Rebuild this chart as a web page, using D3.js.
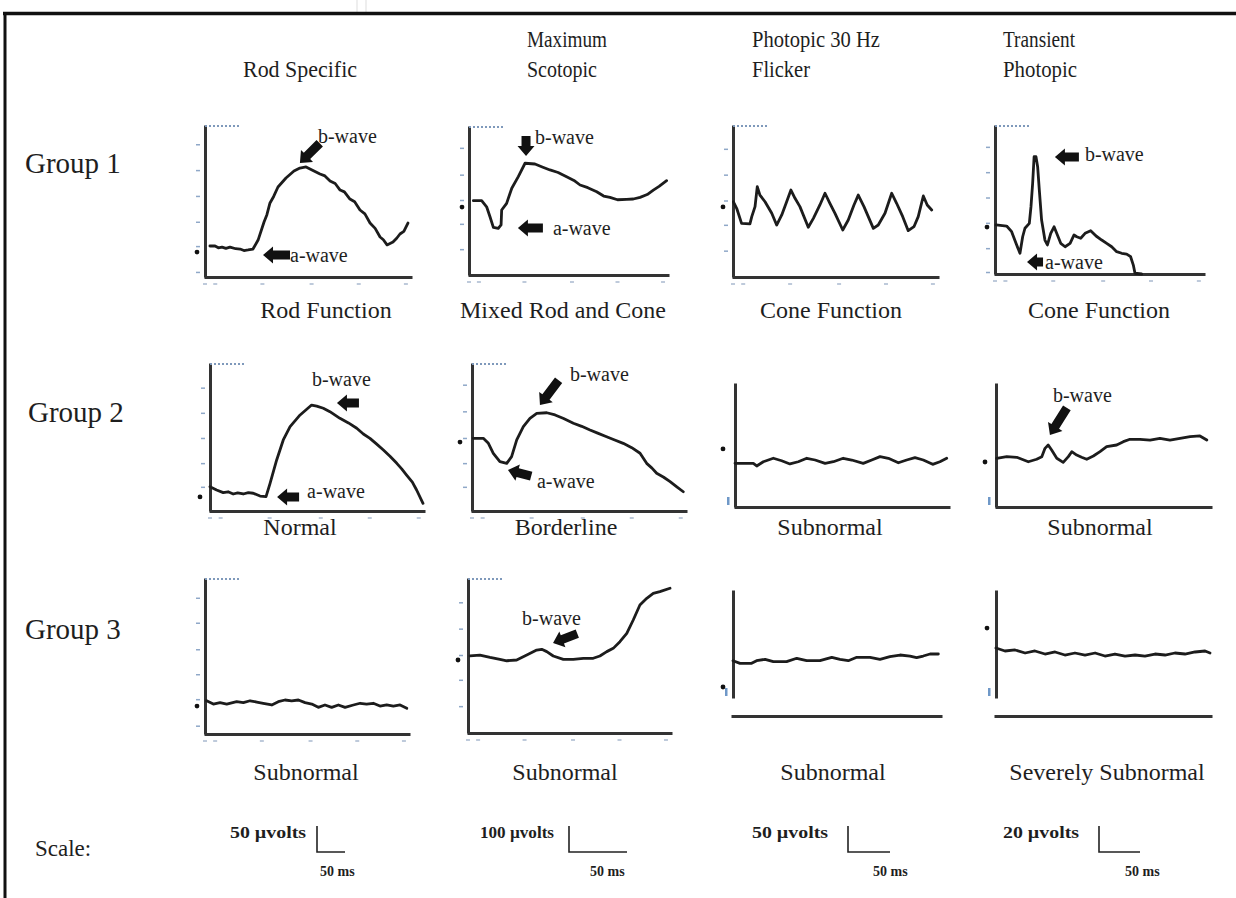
<!DOCTYPE html>
<html>
<head>
<meta charset="utf-8">
<script src="https://cdn.jsdelivr.net/npm/d3@7"></script>
<style>
  body { margin: 0; background: #fff; }
  svg text { font-family: "Liberation Serif", "Times New Roman", serif; fill: #1e1e1e; }
</style>
</head>
<body>
<div id="chart"></div>
<script>
// ---- texts ----
const columnTitles = [["Rod Specific"], ["Maximum", "Scotopic"], ["Photopic 30 Hz", "Flicker"], ["Transient", "Photopic"]];
const groupLabels = ["Group 1", "Group 2", "Group 3"];
const captionsRow1 = ["Rod Function", "Mixed Rod and Cone", "Cone Function", "Cone Function"];
const captionsRow2 = ["Normal", "Borderline", "Subnormal", "Subnormal"];
const captionsRow3 = ["Subnormal", "Subnormal", "Subnormal", "Severely Subnormal"];
const scaleVolts = ["50 \u00b5volts", "100 \u00b5volts", "50 \u00b5volts", "20 \u00b5volts"];
const scaleTime = ["50 ms", "50 ms", "50 ms", "50 ms"];

// ---- waveforms: [time (% of sweep), amplitude (% of panel height)] ----
const g1RodSpecific = [[2.4,20.4],[4.9,20.4],[6.5,19.2],[8.3,19.7],[10.2,18.8],[12.2,19.7],[15,18.6],[17.1,18.4],[19,17.4],[21,17.8],[23.4,18.4],[25.9,24.3],[28.8,36.2],[30.2,41],[31.7,48.7],[33.5,53],[35.6,59.2],[39.5,65.1],[43.4,69.7],[46.3,71.7],[49.3,72.4],[52.2,70.4],[56.1,67.8],[58.5,66.5],[61,63.2],[63.5,61.5],[65.9,57.2],[68,56],[70.7,51.3],[73,49.5],[75.6,44.1],[78,41.5],[80.5,35.5],[83,32],[85.4,26.3],[87,24.5],[88.8,21.1],[91.7,23],[93.5,25.5],[95.1,28.3],[97,30],[99,35.5]];
const g1MaxScotopic = [[2.2,49.9],[6.4,49.9],[8.9,45.8],[10.6,39.1],[12.3,32],[14.8,31.3],[16.2,33.6],[16.5,43.6],[19,48.1],[21.6,58.2],[24.9,66],[28.3,75],[33.3,74.5],[37,72.5],[40.9,70.5],[45,68.8],[49.3,66],[53,63.5],[56.1,60.4],[60,58.6],[64.5,55.9],[68,53],[71.2,52.1],[75,50.5],[79.6,50.8],[83,51],[86.4,52.1],[90,54],[93.1,57],[96,59.5],[99.8,63.3]];
const g1Flicker = [[0.2,49.5],[1.8,45.2],[4.2,35.3],[8.3,34.9],[9.2,39.7],[10.8,46.3],[11.9,59.4],[13.2,53.9],[15.7,49.5],[19,41.9],[21.4,34.2],[23.9,40.8],[26.3,49.5],[28.4,57.2],[30.4,51.8],[32.8,46.3],[36.9,32.7],[39.4,38.6],[42.6,47.4],[45.1,55.1],[47.5,48.5],[50,41.9],[53.8,30.9],[56.5,37.5],[59.3,47.4],[61.4,53.9],[64.2,46.3],[68.8,32],[71.2,34.2],[74.5,41.9],[77.8,55.1],[80.2,48.5],[83.2,39.7],[85.9,30.5],[88.7,33.1],[90.8,39.7],[93.3,53.3],[95.2,47.4],[97.4,44.1]];
const g1Transient = [[0.5,32.9],[5.6,32.2],[8,28.4],[10.1,20.6],[12,13.9],[13.3,25],[14.4,30.7],[16.5,34],[17.3,45.2],[18.1,60.9],[18.8,78.7],[19.7,78.7],[20.5,72],[21.3,56.4],[22.4,36.2],[24,22.8],[25.2,19.5],[26.8,27.3],[28.4,31.7],[30,26.2],[31.6,20.6],[33.7,18.3],[36.1,20.6],[38,26.2],[39.3,25],[41.2,24],[43.3,27.3],[46,29.1],[48.6,25.5],[51.3,22.8],[53.7,20.6],[56.1,18.3],[58.5,15],[60.9,13.9],[63.3,13.4],[65.2,11.6],[66.5,6],[67.3,0.5],[70.5,0]];
const g2RodFunction = [[0,16.4],[3.1,14.2],[6.2,12.4],[8.5,13],[10.9,11.5],[13,12.3],[15.6,11.5],[18,12.4],[20.3,12],[23.5,10.1],[26.3,9.7],[28.2,18.7],[31.3,34.5],[34.4,48],[37.6,57],[42.3,64.9],[47.7,71.6],[50.1,70.9],[53.2,69.4],[56.3,67.1],[61,62.6],[65,59.5],[68.9,55.9],[72,52],[75.1,49.1],[78,45.5],[81.4,41.2],[84.5,37],[87.7,32.2],[90,28.5],[92.3,24.3],[95,19.5],[97,14.2],[100,5.2]];
const g2MixedRodCone = [[0.6,49.1],[5.3,49.1],[7.7,45.7],[10,39],[13.1,33.3],[16.3,32.2],[18.6,36.7],[21,48],[24.1,57],[27.2,62.6],[30.4,66],[35.1,66.4],[39,64.9],[43,62.5],[47.6,59.3],[51.5,57.2],[55.4,54.7],[59,52.6],[63.2,50.2],[67,48],[71,45.7],[75,42.8],[78.9,39],[82,32.2],[84.5,29],[86.7,25.5],[90,22.8],[93,19.8],[96,16.5],[99.2,13]];
const g2Flicker = [[0,35.2],[8.6,35.2],[10.2,33.1],[13.3,36.5],[18,39.3],[21.9,37.3],[25.8,34.7],[29.7,36.5],[33.7,39.3],[37.6,37.9],[42.3,35.2],[46.2,36.5],[50.8,39.3],[54.8,37.9],[60.2,35.2],[64.2,37.9],[68.1,40.6],[72,39.3],[76.7,35.7],[80.6,37.9],[84.5,39.8],[88.4,37.9],[92.8,34.4],[96.2,36.5],[99.4,39.3]];
const g2Transient = [[0.3,39.3],[5,40.6],[9.7,40.1],[15.1,36.5],[19,38.5],[21.4,40.6],[22.9,47.3],[24.4,50],[26,46],[28.4,39.3],[31.4,36],[33.8,40.6],[35.4,44.6],[37.7,41.9],[40,40.1],[42.4,38.5],[45.5,41.1],[48.6,44.6],[51.7,48.6],[56.4,50],[59.5,52.7],[62.6,54.6],[67.3,54.6],[72,54],[76.6,55.4],[81.3,54],[86,55.4],[90.7,56.7],[95.3,57.3],[98.5,54]];
const g3RodSpecific = [[0.8,21.3],[4.1,19.2],[7.4,20.1],[10.7,19.2],[15.6,20.7],[18.9,20.1],[22.2,21.3],[25.5,20.5],[28.7,19.7],[32.9,18.6],[36.1,20.7],[39.4,21.8],[42.7,21.3],[46,21.8],[49.3,20.1],[52.6,19.2],[55.8,17.1],[59.1,18.6],[62.4,17.1],[65.7,18.6],[69,17.1],[73.1,18.6],[76.4,19.7],[79.6,19.2],[82.9,19.7],[86.2,17.9],[89.5,18.6],[92.8,17.9],[96.1,18.6],[99.4,16.5]];
const g3MaxScotopic = [[1,49.7],[5.9,50.3],[10.9,48.8],[15.8,47.5],[19.2,46.6],[24.1,47.1],[29.1,50.3],[34,53.5],[36.5,54],[39,52.5],[42.2,49.7],[47.2,47.5],[52.1,47.5],[57.1,48.2],[62,48.2],[65.3,49.7],[68.7,52.5],[71.9,54.6],[75.2,58.9],[78.6,64.3],[81.8,72.9],[85.1,82.6],[88.5,86.9],[91.7,90.1],[95,91.2],[100,93.4]];
const g3Flicker = [[0,43.9],[3.4,41.8],[9,41.8],[11.4,43.9],[15.5,45],[19.5,43.1],[25.9,43.1],[30.8,45.8],[35.6,43.9],[42,43.9],[47.7,46.6],[51.7,45],[55.7,43.9],[59.8,46.6],[66.2,46.6],[71,45],[75.8,47.1],[80.7,48.4],[85.5,47.6],[88.7,46.3],[91.9,47.6],[95.2,49.2],[99.2,49.2]];
const g3Transient = [[0,54],[4.2,51.6],[8.9,52.4],[13.6,50],[18.2,51.6],[22.9,49.2],[27.6,50.8],[32.2,48.4],[36.9,50],[41.6,48.4],[46.3,50],[50.9,47.6],[55.6,49.2],[60.3,47.6],[65,48.4],[69.6,47.6],[74.3,49.2],[79,48.4],[83.6,50],[88.3,49.2],[93,50.8],[97.7,51.6],[100,50]];

// ---- panel layout ----
const panels = [
  {x0:205, w:205, top:125, bot:277, kind:'ticked', wave:g1RodSpecific, yTicks:[3,20,36,53,70,87], base:16.4, dotDx:-8},
  {x0:469, w:198, top:126, bot:275, kind:'ticked', wave:g1MaxScotopic, yTicks:[17,34,50,67,85], base:45.6, dotDx:-7},
  {x0:733, w:204, top:125, bot:277, kind:'ticked', wave:g1Flicker, yTicks:[17,34,50,67,84], base:46.1, dotDx:-10},
  {x0:995, w:208, top:125, bot:274, kind:'ticked', wave:g1Transient, yTicks:[1,17,34,51,68,85], base:31.5, dotDx:-8},
  {x0:210, w:213, top:363, bot:511, kind:'ticked', wave:g2RodFunction, yTicks:[16,32,49,66,83], base:9.5, dotDx:-10},
  {x0:472, w:213, top:363, bot:511, kind:'ticked', wave:g2MixedRodCone, yTicks:[16,32,49,67,85], base:46.6, dotDx:-12},
  {x0:735, w:213, top:383, bot:507, kind:'plain', wave:g2Flicker, base:46.8, dotDx:-12},
  {x0:996, w:214, top:383, bot:507, kind:'plain', wave:g2Transient, base:36.3, dotDx:-11},
  {x0:205, w:203, top:578, bot:734, kind:'ticked', wave:g3RodSpecific, yTicks:[5,22,38,54,71,87], base:17.9, dotDx:-8},
  {x0:468, w:202, top:578, bot:733, kind:'ticked', wave:g3MaxScotopic, yTicks:[17,34,50,67,84], base:47.1, dotDx:-10},
  {x0:733, w:207, top:590, bot:716, kind:'split', axisEnd:698, wave:g3Flicker, base:23, dotDx:-10},
  {x0:996, w:214, top:590, bot:716, kind:'split', axisEnd:698, wave:g3Transient, base:69.8, dotDx:-9}
];
const xTicks = [0, 5, 28, 52, 75, 98];

// annotation arrows: panel index, tip (t, v), direction angle, length, label offset
const annotations = [
  {p:0, label:'b-wave', t:46.3, v:75.0, angle:135, len:28, dx:18, dy:-20},
  {p:0, label:'a-wave', t:28.3, v:14.5, angle:180, len:27, dx:27, dy:7},
  {p:1, label:'b-wave', t:28.8, v:79.9, angle:90, len:20, dx:9, dy:-12},
  {p:1, label:'a-wave', t:24.7, v:31.5, angle:180, len:25, dx:35, dy:7},
  {p:3, label:'b-wave', t:28.8, v:78.5, angle:180, len:24, dx:30, dy:4},
  {p:3, label:'a-wave', t:15.4, v:8.1, angle:180, len:16, dx:18, dy:7},
  {p:4, label:'b-wave', t:59.6, v:73.0, angle:180, len:22, dx:-25, dy:-17},
  {p:4, label:'a-wave', t:31.5, v:9.5, angle:180, len:22, dx:30, dy:1},
  {p:5, label:'b-wave', t:31.9, v:71.6, angle:127, len:31, dx:30, dy:-24},
  {p:5, label:'a-wave', t:16.9, v:27.7, angle:195, len:24, dx:29, dy:18},
  {p:7, label:'b-wave', t:25.2, v:58.1, angle:122, len:32, dx:3, dy:-33},
  {p:9, label:'b-wave', t:42.1, v:58.1, angle:159, len:26, dx:-31, dy:-18}
];

const W = 1236, H = 898;
const svg = d3.select('#chart').append('svg').attr('width', W).attr('height', H);

// frame
svg.append('line').attr('x1', 357).attr('x2', 357).attr('y1', 0).attr('y2', 12).attr('stroke', '#ddd');
svg.append('line').attr('x1', 366).attr('x2', 366).attr('y1', 0).attr('y2', 12).attr('stroke', '#ddd');
svg.append('line').attr('x1', 3).attr('x2', W).attr('y1', 13.5).attr('y2', 13.5).attr('stroke', '#111').attr('stroke-width', 3.5);
svg.append('line').attr('x1', 5).attr('x2', 5).attr('y1', 12).attr('y2', H).attr('stroke', '#111').attr('stroke-width', 3);

// column titles (narrow serif, as in the original)
const titleX = [243, 527, 752, 1003];
const titleLen = [[114], [80, 70], [128, 58], [72, 74]];
columnTitles.forEach((lines, i) => {
  const ys = lines.length === 1 ? [77] : [47, 77];
  lines.forEach((s, j) => {
    svg.append('text').attr('x', titleX[i]).attr('y', ys[j]).attr('font-size', 23)
      .attr('textLength', titleLen[i][j]).attr('lengthAdjust', 'spacingAndGlyphs').text(s);
  });
});

// group labels + scale label
const groupY = [173, 422, 639];
groupLabels.forEach((s, i) => {
  svg.append('text').attr('x', i === 1 ? 28 : 25).attr('y', groupY[i]).attr('font-size', 29).text(s);
});
svg.append('text').attr('x', 35).attr('y', 856).attr('font-size', 23).text('Scale:');

// captions
const capRows = [
  {texts: captionsRow1, y: 318, cx: [326, 563, 831, 1099]},
  {texts: captionsRow2, y: 535, cx: [300, 566, 830, 1100]},
  {texts: captionsRow3, y: 780, cx: [306, 565, 833, 1107]}
];
capRows.forEach(r => r.texts.forEach((s, i) => {
  svg.append('text').attr('x', r.cx[i]).attr('y', r.y).attr('font-size', 24)
    .attr('text-anchor', 'middle').text(s);
}));

// panels
const line = d3.line();
panels.forEach(p => {
  const x = d3.scaleLinear([0, 100], [p.x0, p.x0 + p.w]);
  const y = d3.scaleLinear([0, 100], [p.bot, p.top]);
  p.x = x; p.y = y;
  const g = svg.append('g');

  // axes
  const yAxisRange = p.kind === 'split' ? [p.axisEnd, p.top] : [p.bot, p.top];
  const yAx = d3.scaleLinear([0, 1], yAxisRange);
  g.append('g').attr('transform', `translate(${p.x0},0)`)
    .call(d3.axisLeft(yAx).tickValues([]).tickSizeOuter(0))
    .call(a => a.select('.domain').attr('stroke', '#333').attr('stroke-width', 3));
  const xStart = p.kind === 'split' ? p.x0 - 2 : p.x0 - 1;
  const xAx = d3.scaleLinear([0, 1], [xStart, p.x0 + p.w + 2]);
  g.append('g').attr('transform', `translate(0,${p.bot})`)
    .call(d3.axisBottom(xAx).tickValues([]).tickSizeOuter(0))
    .call(a => a.select('.domain').attr('stroke', '#333').attr('stroke-width', 3));

  if (p.kind === 'ticked') {
    g.selectAll('line.yt').data(p.yTicks).join('line')
      .attr('x1', p.x0 - 9).attr('x2', p.x0 - 5)
      .attr('y1', d => y(d)).attr('y2', d => y(d))
      .attr('stroke', '#8fa8c8').attr('stroke-width', 1.5);
    g.selectAll('line.xt').data(xTicks).join('line')
      .attr('x1', d => x(d) - 2).attr('x2', d => x(d) + 2)
      .attr('y1', p.bot + 7).attr('y2', p.bot + 7)
      .attr('stroke', '#a9b9cf').attr('stroke-width', 1.5);
    g.append('line').attr('x1', p.x0).attr('x2', p.x0 + 34)
      .attr('y1', p.top + 1).attr('y2', p.top + 1)
      .attr('stroke', '#7f99bb').attr('stroke-width', 1.8).attr('stroke-dasharray', '2,2');
  } else {
    g.append('rect').attr('x', p.x0 - 8).attr('y', (p.kind === 'split' ? p.axisEnd : p.bot) - 10)
      .attr('width', 2.5).attr('height', 8).attr('fill', '#6f98c8');
  }

  g.append('circle').attr('cx', p.x0 + p.dotDx).attr('cy', y(p.base)).attr('r', 2.4).attr('fill', '#111');

  g.append('path').datum(p.wave)
    .attr('d', line.x(d => x(d[0])).y(d => y(d[1])))
    .attr('fill', 'none').attr('stroke', '#1c1c1c').attr('stroke-width', 2.8)
    .attr('stroke-linejoin', 'round').attr('stroke-linecap', 'round');
});

// annotation arrows
function arrowPath(len) {
  const hl = 10, hw = 17, sw = 9;
  return `M0,0L${-hl},${-hw / 2}L${-hl},${-sw / 2}L${-len},${-sw / 2}L${-len},${sw / 2}L${-hl},${sw / 2}L${-hl},${hw / 2}Z`;
}
annotations.forEach(a => {
  const p = panels[a.p];
  const tx = p.x(a.t), ty = p.y(a.v);
  svg.append('path').attr('d', arrowPath(a.len))
    .attr('transform', `translate(${tx},${ty}) rotate(${a.angle})`)
    .attr('fill', '#111');
  svg.append('text').attr('x', tx + a.dx).attr('y', ty + a.dy)
    .attr('font-size', 20).text(a.label);
});

// scale bars
const scaleTextX = [230, 480, 752, 1003];
const scaleBarX = [317, 569, 848, 1099];
const scaleBarLen = [28, 58, 42, 41];
const msX = [320, 590, 873, 1125];
scaleVolts.forEach((s, i) => {
  svg.append('text').attr('x', scaleTextX[i]).attr('y', 838).attr('font-size', 16)
    .attr('font-weight', 'bold').attr('textLength', i === 1 ? 74 : 76)
    .attr('lengthAdjust', 'spacingAndGlyphs').text(s);
  svg.append('path')
    .attr('d', `M${scaleBarX[i]},826V852H${scaleBarX[i] + scaleBarLen[i]}`)
    .attr('fill', 'none').attr('stroke', '#222').attr('stroke-width', 1.6);
  svg.append('text').attr('x', msX[i]).attr('y', 876).attr('font-size', 14)
    .attr('font-weight', 'bold').text(scaleTime[i]);
});
</script>
</body>
</html>
